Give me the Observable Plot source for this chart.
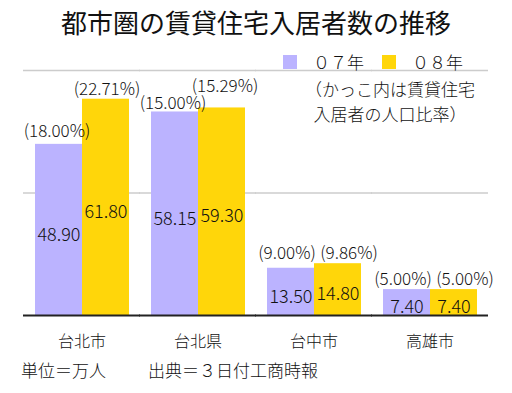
<!DOCTYPE html>
<html><head><meta charset="utf-8">
<script src="https://cdn.jsdelivr.net/npm/d3@7"></script>
<script src="https://cdn.jsdelivr.net/npm/@observablehq/plot@0.6"></script>
<style>
body{margin:0;background:#fff;}
#wrap{position:relative;width:512px;height:393px;font-family:"Noto Sans CJK JP",sans-serif;font-weight:300;color:#111;text-spacing-trim:space-all;}
#title{position:absolute;top:0;left:0;width:512px;height:44px;line-height:44px;text-align:center;font-size:26px;font-weight:400;}
#legend{position:absolute;top:53px;left:283px;display:flex;align-items:center;font-size:17px;line-height:18px;}
.sw{width:14px;height:14px;display:inline-block;margin-right:16px;}
.lab{margin-right:18px;}
#note{position:absolute;top:76px;left:290px;width:200px;text-align:center;font-size:17px;line-height:25px;}
#chart{position:absolute;top:40px;left:0;}
#unit{position:absolute;top:360px;left:21px;font-size:17px;line-height:20px;}
#source{position:absolute;top:360px;left:148px;font-size:17px;line-height:20px;}
svg text{text-spacing-trim:space-all;}
</style></head>
<body>
<div id="wrap">
  <div id="title"></div>
  <div id="chart"></div>
  <div id="legend"></div>
  <div id="note"></div>
  <div id="unit"></div>
  <div id="source"></div>
</div>
<script>
const title = "都市圏の賃貸住宅入居者数の推移";
const cities = ["台北市", "台北県", "台中市", "高雄市"];
const years = ["０７年", "０８年"];
const colors = ["#bbb3ff", "#ffd60a"];
const v07 = [48.90, 58.15, 13.50, 7.40];
const v08 = [61.80, 59.30, 14.80, 7.40];
const p07 = ["18.00", "15.00", "9.00", "5.00"];
const p08 = ["22.71", "15.29", "9.86", "5.00"];
const noteLines = ["（かっこ内は賃貸住宅", "入居者の人口比率）"];
const unitText = "単位＝万人";
const sourceText = "出典＝３日付工商時報";
const yTicks = [35, 70];

// label layout (avoid collisions between neighbouring percentage labels)
const data = [];
cities.forEach((c, i) => {
  const close = Math.abs(v07[i] - v08[i]) < 3;
  const wide = p07[i].length >= 5 || p08[i].length >= 5;
  const top = Math.max(v07[i], v08[i]);
  let l07 = {y: v07[i], dx: -2, dy: -13}, l08 = {y: v08[i], dx: 1, dy: -10};
  if (close && wide) { l07 = {y: v07[i], dx: -2, dy: -8}; l08 = {y: v08[i], dx: 3, dy: -21}; }
  else if (close) { l07 = {y: top, dx: -4, dy: -10}; l08 = {y: top, dx: 11, dy: -10}; }
  data.push({city: c, year: years[0], value: v07[i], pct: p07[i], ly: l07.y, ldx: l07.dx, ldy: l07.dy});
  data.push({city: c, year: years[1], value: v08[i], pct: p08[i], ly: l08.y, ldx: l08.dx, ldy: l08.dy});
});

document.getElementById("title").textContent = title;
document.getElementById("note").innerHTML = noteLines.join("<br>");
document.getElementById("unit").textContent = unitText;
document.getElementById("source").textContent = sourceText;
const leg = document.getElementById("legend");
years.forEach((y, i) => {
  const s = document.createElement("span"); s.className = "sw"; s.style.background = colors[i];
  const t = document.createElement("span"); t.className = "lab"; t.textContent = y;
  leg.appendChild(s); leg.appendChild(t);
});

const ext = -11;
const pctMarks = data.map(d => Plot.text([d], {
  fx: "city", x: "year", y: "ly", text: e => `(${e.pct}%)`,
  dx: d.ldx, dy: d.ldy, fontSize: 17, fontWeight: 300, fill: "#111"
}));
const chart = Plot.plot({
  width: 512,
  height: 315,
  marginTop: 30,
  marginBottom: 40,
  marginLeft: 24,
  marginRight: 24,
  style: {fontFamily: "'Noto Sans CJK JP', sans-serif", fontSize: "16px", fontWeight: 300, color: "#111", background: "transparent"},
  fx: {domain: cities, paddingInner: 0.18, paddingOuter: 0.09, axis: "bottom", label: null, tickSize: 0, tickPadding: 20},
  x: {domain: years, padding: 0, axis: null},
  y: {domain: [0, 70], axis: null},
  color: {domain: years, range: colors},
  marks: [
    Plot.ruleY(yTicks, {stroke: "#cccccc", strokeWidth: 1.5, insetLeft: ext, insetRight: ext}),
    Plot.barY(data, {fx: "city", x: "year", y: "value", fill: "year"}),
    Plot.ruleY([0], {stroke: "#222", strokeWidth: 2, insetLeft: ext, insetRight: ext}),
    Plot.text(data, {fx: "city", x: "year", y: d => d.value / 2, text: d => d.value.toFixed(2), dy: 5, fontSize: 18, fontWeight: 300, fill: "#111"}),
    ...pctMarks
  ]
});
document.getElementById("chart").appendChild(chart);
</script>
</body></html>
